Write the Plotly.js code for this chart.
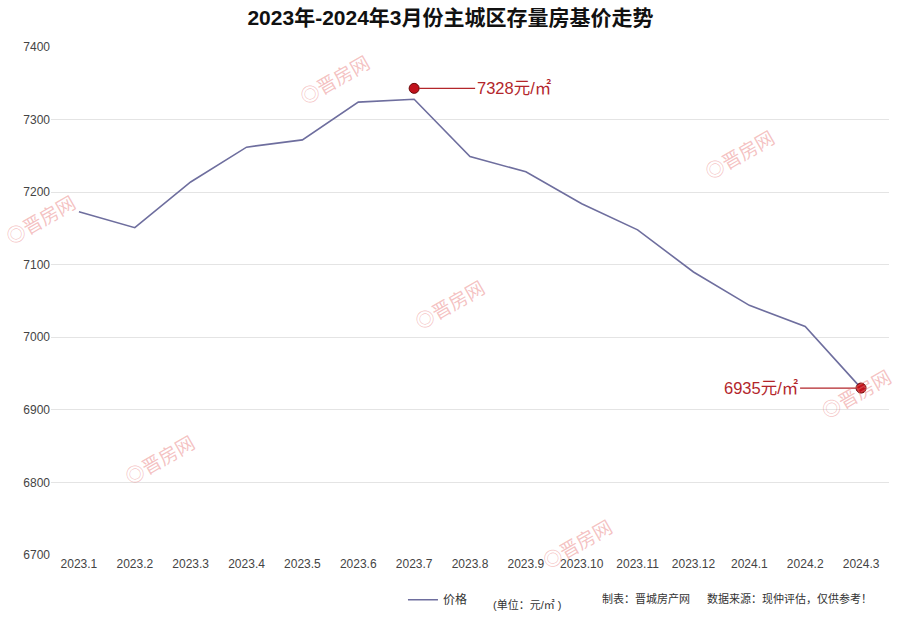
<!DOCTYPE html>
<html>
<head>
<meta charset="utf-8">
<script src="https://cdn.plot.ly/plotly-3.0.1.min.js"></script>
<style>html,body{margin:0;padding:0;background:#fff;}#chart{width:901px;height:618px;}</style>
</head>
<body>
<div id="chart"></div>
<script>
const months = ['2023.1','2023.2','2023.3','2023.4','2023.5','2023.6','2023.7','2023.8','2023.9','2023.10','2023.11','2023.12','2024.1','2024.2','2024.3'];
const prices = [7173, 7151, 7214, 7262, 7272, 7324, 7328, 7249, 7228, 7184, 7148, 7090, 7044, 7015, 6930];
const highlightX = ['2023.7', '2024.3'];
const highlightY = [7343, 6930];
const highlightLabels = ['7328元/㎡', '6935元/㎡'];
const yTicks = [6700, 6800, 6900, 7000, 7100, 7200, 7300, 7400];
const seriesName = '价格';
const titleText = '2023年-2024年3月份主城区存量房基价走势';
const footnotes = ['(单位：元/㎡ )', '制表：晋城房产网', '数据来源：现仲评估，仅供参考！'];
const watermark = '◎晋房网';

const lineColor = '#6e6e9e';
const red = '#b3262b';
const font = '"Liberation Sans", "Noto Sans CJK SC", sans-serif';

const traces = [
  {
    x: months, y: prices, type: 'scatter', mode: 'lines', name: seriesName,
    line: {color: lineColor, width: 1.6}, hoverinfo: 'skip'
  },
  {
    x: highlightX, y: highlightY, type: 'scatter', mode: 'markers', showlegend: false,
    marker: {color: '#c1121c', size: 10, line: {color: '#6a0a0a', width: 1}}, hoverinfo: 'skip'
  }
];

const annotations = [
  {x: months.indexOf(highlightX[0]), y: highlightY[0], xref: 'x', yref: 'y', text: highlightLabels[0],
   showarrow: true, arrowhead: 0, arrowwidth: 1.2, arrowcolor: red, ax: 100, ay: 0, axref: 'pixel', ayref: 'pixel', standoff: 5,
   font: {family: font, size: 16.5, color: red}},
  {x: months.indexOf(highlightX[1]), y: highlightY[1], xref: 'x', yref: 'y', text: highlightLabels[1],
   showarrow: true, arrowhead: 0, arrowwidth: 1.2, arrowcolor: red, ax: -100, ay: 0, axref: 'pixel', ayref: 'pixel', standoff: 5,
   font: {family: font, size: 16.5, color: red}},
  {xref: 'paper', yref: 'paper', x: 0.525, y: -0.098, xanchor: 'left', yanchor: 'middle', showarrow: false,
   text: footnotes[0], font: {family: font, size: 11, color: '#333'}},
  {xref: 'paper', yref: 'paper', x: 0.655, y: -0.085, xanchor: 'left', yanchor: 'middle', showarrow: false,
   text: footnotes[1], font: {family: font, size: 11, color: '#333'}},
  {xref: 'paper', yref: 'paper', x: 0.78, y: -0.085, xanchor: 'left', yanchor: 'middle', showarrow: false,
   text: footnotes[2], font: {family: font, size: 11, color: '#333'}}
];

const wmPos = [[0.339, 0.935], [0.822, 0.787], [-0.012, 0.659], [0.476, 0.492], [0.130, 0.187], [0.962, 0.315], [0.629, 0.020]];
wmPos.forEach(p => annotations.push({
  xref: 'paper', yref: 'paper', x: p[0], y: p[1], xanchor: 'center', yanchor: 'middle',
  showarrow: false, text: watermark, textangle: -30,
  font: {family: font, size: 19, color: 'rgba(232,120,120,0.45)'}
}));

const layout = {
  width: 901, height: 618,
  margin: {l: 51, r: 12, t: 47, b: 63, autoexpand: false},
  paper_bgcolor: '#fff', plot_bgcolor: '#fff',
  title: {text: '<b>' + titleText + '</b>', x: 0.5, xanchor: 'center', y: 0.972, yanchor: 'middle',
          font: {family: font, size: 21, color: '#111'}},
  xaxis: {type: 'category', range: [-0.5, 14.5], showgrid: false, zeroline: false, showline: false,
          ticks: '', tickfont: {family: font, size: 12, color: '#444'}, fixedrange: true},
  yaxis: {range: [6700, 7400], tickvals: yTicks, showgrid: true, gridcolor: '#e4e4e4', gridwidth: 1,
          zeroline: false, showline: false, ticks: '', ticklen: 0,
          tickfont: {family: font, size: 12, color: '#444'}, fixedrange: true},
  showlegend: true,
  legend: {orientation: 'h', x: 0.42, y: -0.088, xanchor: 'left', yanchor: 'middle',
           font: {family: font, size: 12, color: '#333'}, bgcolor: 'rgba(0,0,0,0)'},
  annotations: annotations
};

Plotly.newPlot('chart', traces, layout, {displayModeBar: false, staticPlot: true});
</script>
</body>
</html>
